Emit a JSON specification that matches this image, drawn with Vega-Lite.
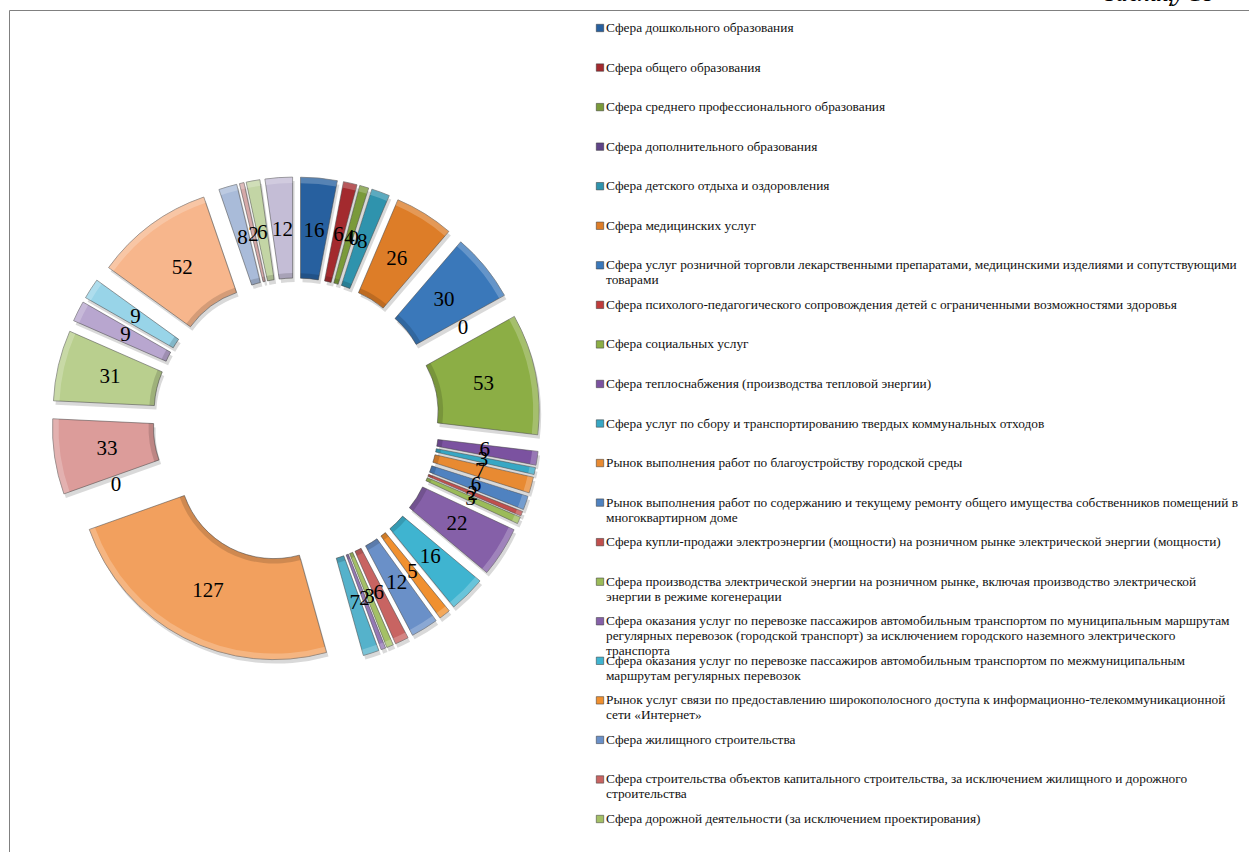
{
"$schema":"https://vega.github.io/schema/vega-lite/v6.json",
"width":1240,"height":842,
"autosize":"none",
"padding":{"left":9,"top":10,"right":0,"bottom":0},
"background":"white",
"config":{"view":{"stroke":null}},
"data":{"values":[
{"i":1,"name":"Сфера дошкольного образования","value":16},
{"i":2,"name":"Сфера общего образования","value":6},
{"i":3,"name":"Сфера среднего профессионального образования","value":4},
{"i":4,"name":"Сфера дополнительного образования","value":0},
{"i":5,"name":"Сфера детского отдыха и оздоровления","value":8},
{"i":6,"name":"Сфера медицинских услуг","value":26},
{"i":7,"name":"Сфера услуг розничной торговли лекарственными препаратами, медицинскими изделиями и сопутствующими\nтоварами","value":30},
{"i":8,"name":"Сфера психолого-педагогического сопровождения детей с ограниченными возможностями здоровья","value":0},
{"i":9,"name":"Сфера социальных услуг","value":53},
{"i":10,"name":"Сфера теплоснабжения (производства тепловой энергии)","value":6},
{"i":11,"name":"Сфера услуг по сбору и транспортированию твердых коммунальных отходов","value":3},
{"i":12,"name":"Рынок выполнения работ по благоустройству городской среды","value":7},
{"i":13,"name":"Рынок выполнения работ по содержанию и текущему ремонту общего имущества собственников помещений в\nмногоквартирном доме","value":6},
{"i":14,"name":"Сфера купли-продажи электроэнергии (мощности) на розничном рынке электрической энергии (мощности)","value":2},
{"i":15,"name":"Сфера производства электрической энергии на розничном рынке, включая производство электрической\nэнергии в режиме когенерации","value":3},
{"i":16,"name":"Сфера оказания услуг по перевозке пассажиров автомобильным транспортом по муниципальным маршрутам\nрегулярных перевозок (городской транспорт) за исключением городского наземного электрического\nтранспорта","value":22},
{"i":17,"name":"Сфера оказания услуг по перевозке пассажиров автомобильным транспортом по межмуниципальным\nмаршрутам регулярных перевозок","value":16},
{"i":18,"name":"Рынок услуг связи по предоставлению широкополосного доступа к информационно-телекоммуникационной\nсети «Интернет»","value":5},
{"i":19,"name":"Сфера жилищного строительства","value":12},
{"i":20,"name":"Сфера строительства объектов капитального строительства, за исключением жилищного и дорожного\nстроительства","value":6},
{"i":21,"name":"Сфера дорожной деятельности (за исключением проектирования)","value":3},
{"i":22,"value":2},
{"i":23,"value":7},
{"i":24,"value":127},
{"i":25,"value":0},
{"i":26,"value":33},
{"i":27,"value":31},
{"i":28,"value":9},
{"i":29,"value":9},
{"i":30,"value":52},
{"i":31,"value":8},
{"i":32,"value":2},
{"i":33,"value":6},
{"i":34,"value":12}
]},
"transform":[
{"joinaggregate":[{"op":"sum","field":"value","as":"total"}]},
{"window":[{"op":"sum","field":"value","as":"cum"}],"sort":[{"field":"i"}]},
{"calculate":"(datum.cum-datum.value/2)/datum.total*2*PI","as":"mid"},
{"calculate":"287+48*sin(datum.mid)","as":"cx"},
{"calculate":"411-48*cos(datum.mid)","as":"cy"}
],
"resolve":{"scale":{"y":"independent"},"axis":{"y":"independent"}},
"layer":[
{
"encoding":{
"theta":{"field":"value","type":"quantitative","stack":true},
"order":{"field":"i","type":"quantitative"}
},
"layer":[
{"mark":{"type":"arc","innerRadius":95,"outerRadius":196,"xOffset":2,"yOffset":4,"fill":"#808080","opacity":0.3},
"encoding":{
"x":{"field":"cx","type":"quantitative","scale":{"domain":[0,1240],"range":[0,1240],"nice":false,"zero":false},"axis":{"orient":"top","domainColor":"#808080","domainWidth":1,"ticks":false,"labels":false,"grid":false,"title":null}},
"y":{"field":"cy","type":"quantitative","scale":{"domain":[0,842],"range":[0,842],"nice":false,"zero":false},"axis":{"orient":"left","domainColor":"#808080","domainWidth":1,"ticks":false,"labels":false,"grid":false,"title":null}}
}},
{"mark":{"type":"arc","innerRadius":95,"outerRadius":196,"strokeWidth":1,"stroke":"#4a4a4a"},
"encoding":{
"x":{"field":"cx","type":"quantitative"},
"y":{"field":"cy","type":"quantitative"},
"strokeOpacity":{"condition":{"test":"datum.value>0","value":0.55},"value":0},
"color":{"field":"i","type":"ordinal","legend":null,
"scale":{"range":["#27609f","#a32a2e","#7a9a3a","#5f4488","#2f93ad","#dd7d28","#3a78ba","#bf3b3a","#8cae45","#7b52a0","#37a7c4","#e88a32","#4f82c0","#c04f4d","#9bbb59","#8560a8","#3fb4d0","#f0902f","#6a90c8","#c86462","#a4c066","#9478b5","#55b2cb","#f2a05e","#87a8d4","#dc9c9a","#b9cf8e","#b8a6cf","#98d4e8","#f7b68c","#a9bbd9","#d5a9a8","#c3d5a5","#c4bdd6"]}}
}},
{"mark":{"type":"arc","innerRadius":190,"outerRadius":196,"fill":"#ffffff","opacity":0.22},
"encoding":{"x":{"field":"cx","type":"quantitative"},"y":{"field":"cy","type":"quantitative"}}},
{"mark":{"type":"arc","innerRadius":95,"outerRadius":100,"fill":"#000000","opacity":0.14},
"encoding":{"x":{"field":"cx","type":"quantitative"},"y":{"field":"cy","type":"quantitative"}}},
{"mark":{"type":"text","radius":191,"font":"Liberation Serif","fontSize":21,"color":"#000000"},
"encoding":{
"x":{"datum":287},
"y":{"datum":411},
"text":{"field":"value","type":"quantitative"}
}},
{"transform":[{"filter":"datum.i==1"}],
"mark":{"type":"text","font":"Liberation Serif","fontStyle":"italic","fontSize":24,"align":"right","baseline":"alphabetic","color":"#000000"},
"encoding":{
"theta":null,"order":null,
"x":{"datum":1205},
"y":{"datum":-9},
"text":{"value":"Таблицу 18"}
}}
]
},
{
"transform":[{"filter":"datum.i<=21"}],
"encoding":{
"y":{"field":"name","type":"ordinal","sort":{"field":"i","op":"min"},"axis":null,"scale":{"type":"point","range":[18,809],"padding":0}}
},
"layer":[
{"mark":{"type":"square","size":55,"filled":true,"opacity":1,"stroke":"#333333","strokeWidth":0.5},
"encoding":{"x":{"datum":591},"color":{"field":"i","type":"ordinal","legend":null}}},
{"mark":{"type":"text","align":"left","baseline":"top","dy":-7,"lineBreak":"\n","lineHeight":15,"font":"Liberation Serif","fontSize":13.35,"color":"#111111"},
"encoding":{"x":{"datum":597},"text":{"field":"name","type":"nominal"}}}
]
}
]
}
